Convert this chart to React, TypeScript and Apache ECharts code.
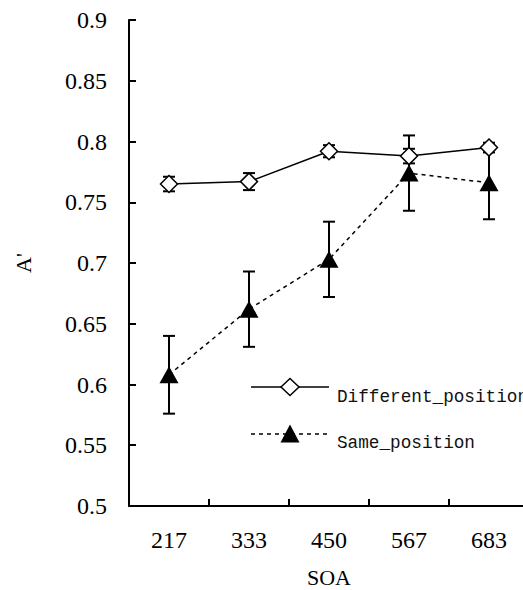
import React, { useEffect, useRef } from "react";
import * as echarts from "echarts";

const categories = ["217", "333", "450", "567", "683"];
const diffMean = [0.765, 0.767, 0.792, 0.788, 0.795];
const diffErr = [0.006, 0.007, 0.005, 0.006, 0.004];
const sameMean = [0.608, 0.662, 0.703, 0.774, 0.766];
const sameErr = [0.032, 0.031, 0.031, 0.031, 0.030];
const seriesNames = ["Different_position", "Same_position"];

const SERIF = "'Liberation Serif', 'Times New Roman', serif";
const MONO = "'Liberation Mono', 'Courier New', monospace";

function errorSeries(mean: number[], err: number[], z: number) {
  return {
    type: "custom",
    z,
    silent: true,
    encode: { x: 0, y: [1, 2] },
    data: mean.map((m, i) => [i, m - err[i], m + err[i]]),
    renderItem: (params: any, api: any) => {
      const x = api.value(0);
      const lo = api.coord([x, api.value(1)]);
      const hi = api.coord([x, api.value(2)]);
      const hw = 6;
      const st = { stroke: "#000", lineWidth: 2 };
      return {
        type: "group",
        children: [
          { type: "line", shape: { x1: lo[0], y1: lo[1], x2: hi[0], y2: hi[1] }, style: st },
          { type: "line", shape: { x1: lo[0] - hw, y1: lo[1], x2: lo[0] + hw, y2: lo[1] }, style: st },
          { type: "line", shape: { x1: hi[0] - hw, y1: hi[1], x2: hi[0] + hw, y2: hi[1] }, style: st },
        ],
      };
    },
  };
}

export default function App() {
  const ref = useRef<HTMLDivElement>(null);
  useEffect(() => {
    if (!ref.current) return;
    const chart = echarts.init(ref.current, null, { renderer: "svg" });
    const lx = 251, lx2 = 329, cx = 290;
    const y1 = 387, y2 = 434;
    chart.setOption({
      animation: false,
      backgroundColor: "#fff",
      grid: { left: 129, top: 20, right: -6, bottom: 84, containLabel: false, outerBoundsMode: "none" },
      xAxis: {
        type: "category",
        data: categories,
        boundaryGap: true,
        name: "SOA",
        nameLocation: "middle",
        nameGap: 60,
        nameTextStyle: { fontFamily: SERIF, fontSize: 22, color: "#000" },
        axisLine: { show: true, lineStyle: { color: "#000", width: 2 } },
        axisTick: { show: true, inside: true, length: 7, lineStyle: { color: "#000", width: 2 } },
        axisLabel: { fontFamily: SERIF, fontSize: 24, color: "#000", margin: 22 },
        splitLine: { show: false },
      },
      yAxis: {
        type: "value",
        min: 0.5,
        max: 0.9,
        interval: 0.05,
        name: "A'",
        nameLocation: "middle",
        nameGap: 95,
        nameTextStyle: { fontFamily: SERIF, fontSize: 22, color: "#000" },
        axisLine: { show: true, lineStyle: { color: "#000", width: 2 } },
        axisTick: { show: true, inside: true, length: 7, lineStyle: { color: "#000", width: 2 } },
        axisLabel: {
          fontFamily: SERIF,
          fontSize: 24,
          color: "#000",
          margin: 22,
          formatter: (v: number) => String(+v.toFixed(2)),
        },
        splitLine: { show: false },
      },
      series: [
        errorSeries(diffMean, diffErr, 1),
        errorSeries(sameMean, sameErr, 1),
        {
          name: seriesNames[0],
          type: "line",
          z: 3,
          data: diffMean,
          symbol: "diamond",
          symbolSize: [17, 17],
          lineStyle: { color: "#000", width: 1.5, type: "solid" },
          itemStyle: { color: "#fff", borderColor: "#000", borderWidth: 1.5 },
        },
        {
          name: seriesNames[1],
          type: "line",
          z: 4,
          data: sameMean,
          symbol: "triangle",
          symbolSize: [19, 17],
          lineStyle: { color: "#000", width: 1.5, type: [4, 4] },
          itemStyle: { color: "#000", borderColor: "#000", borderWidth: 0 },
        },
      ],
      graphic: [
        { type: "line", shape: { x1: lx, y1: y1, x2: lx2, y2: y1 }, style: { stroke: "#000", lineWidth: 1.5 } },
        {
          type: "polygon",
          shape: { points: [[cx, y1 - 8.5], [cx + 9, y1], [cx, y1 + 8.5], [cx - 9, y1]] },
          style: { fill: "#fff", stroke: "#000", lineWidth: 1.5 },
        },
        {
          type: "text",
          x: 337,
          y: 397,
          style: { text: seriesNames[0], font: `17.7px ${MONO}`, fill: "#111", textVerticalAlign: "middle" },
        },
        {
          type: "line",
          shape: { x1: lx, y1: y2, x2: lx2, y2: y2 },
          style: { stroke: "#000", lineWidth: 1.5, lineDash: [4, 4] },
        },
        {
          type: "polygon",
          shape: { points: [[cx, y2 - 9.5], [cx + 9.5, y2 + 8.5], [cx - 9.5, y2 + 8.5]] },
          style: { fill: "#000", stroke: "#000", lineWidth: 0 },
        },
        {
          type: "text",
          x: 337,
          y: 443,
          style: { text: seriesNames[1], font: `17.7px ${MONO}`, fill: "#111", textVerticalAlign: "middle" },
        },
      ],
    });
    return () => chart.dispose();
  }, []);
  return <div ref={ref} style={{ width: 523, height: 590, position: "absolute", left: 0, top: 0 }} />;
}
